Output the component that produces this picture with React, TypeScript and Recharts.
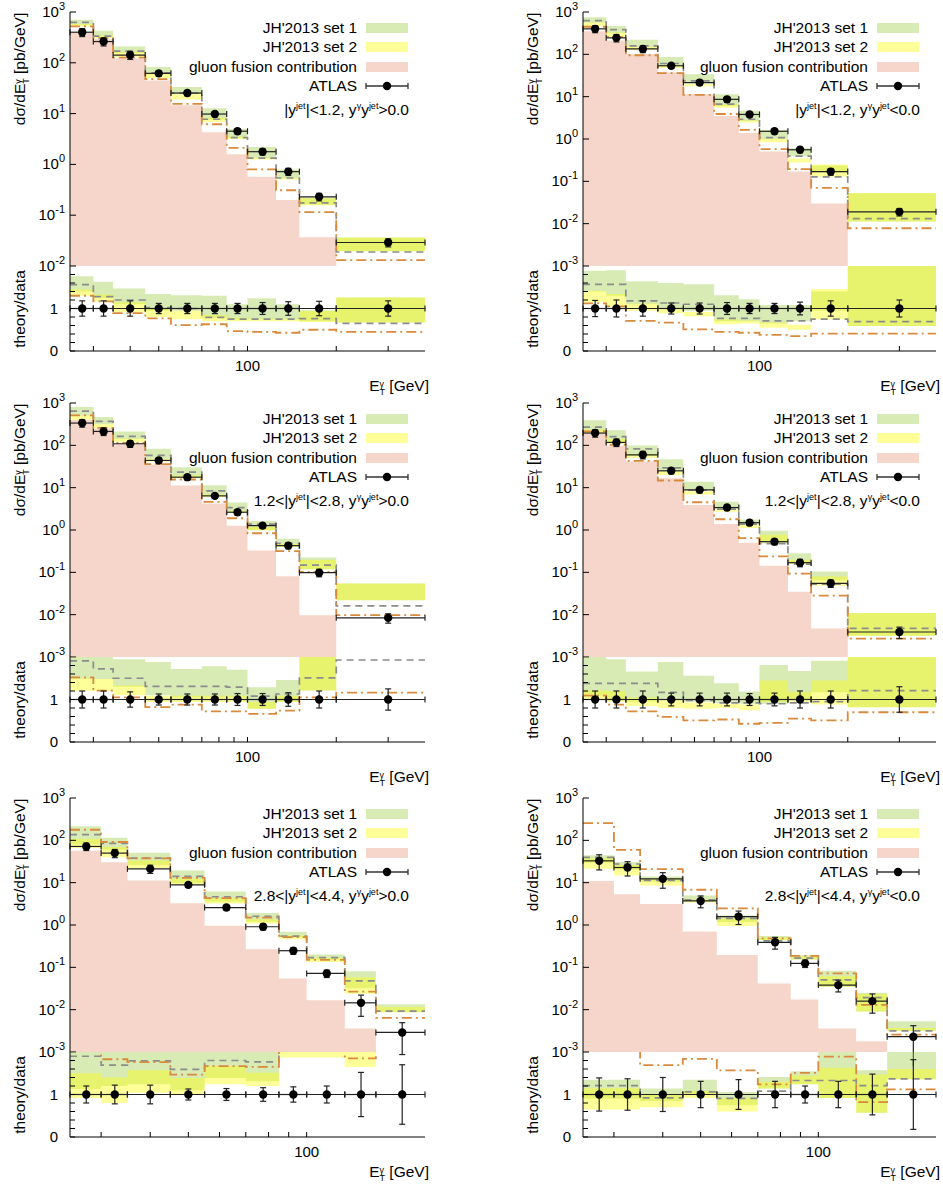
import type { ReactNode } from 'react'
import { ComposedChart, Area, Line, Scatter, ErrorBar, XAxis, YAxis, ReferenceLine } from 'recharts'

const FONT = '"Liberation Sans", Arial, Helvetica, sans-serif'

// bin edges of E_T^gamma [GeV]
const edgesCentral = [25, 30, 35, 45, 55, 70, 85, 100, 125, 150, 200, 400]
const edgesForward = [25, 30, 35, 45, 55, 70, 85, 100, 125, 150, 200]
const xTicksCentral = [30, 40, 50, 60, 70, 80, 90, 100, 200, 300]
const xTicksForward = [30, 40, 50, 60, 70, 80, 90, 100]

// theory curves are kept as ratio to data

// |y jet| < 1.2, y*y > 0
const p1Atlas = [400, 262, 142, 62, 25.4, 9.8, 4.5, 1.78, 0.72, 0.23, 0.029]
const p1Err = [0.18, 0.18, 0.18, 0.12, 0.12, 0.12, 0.12, 0.14, 0.16, 0.17, 0.18]
const p1Set1Lo = [1.4, 1.25, 1.1, 0.95, 0.95, 0.78, 0.74, 0.74, 0.74, 0.7, 0.67]
const p1Set1Hi = [1.76, 1.63, 1.47, 1.34, 1.31, 1.3, 1.1, 1.24, 1.1, 0.96, 1.26]
const p1Set2Lo = [1.3, 1.17, 0.92, 0.8, 0.75, 0.7, 0.7, 0.7, 0.7, 0.68, 0.67]
const p1Set2Hi = [1.45, 1.33, 1.15, 1.0, 0.95, 0.85, 0.78, 0.76, 0.76, 0.94, 1.26]
const p1Dash = [1.56, 1.28, 1.2, 1.02, 1.0, 0.79, 0.75, 0.75, 0.75, 0.76, 0.65]
const p1DashDot = [1.3, 1.17, 0.89, 0.77, 0.61, 0.63, 0.47, 0.45, 0.43, 0.5, 0.45]
const p1Gluon = [400, 290, 122, 44.8, 14.6, 4.3, 1.58, 0.57, 0.2, 0.037, 0.004]

// |y jet| < 1.2, y*y < 0
const p2Atlas = [400, 245, 134, 53.7, 21.5, 8.65, 3.8, 1.52, 0.557, 0.17, 0.019]
const p2Err = [0.19, 0.2, 0.18, 0.13, 0.13, 0.14, 0.12, 0.12, 0.15, 0.18, 0.2]
const p2Set1Lo = [1.4, 1.3, 1.1, 1.0, 0.95, 0.7, 0.7, 0.65, 0.7, 0.95, 0.59]
const p2Set1Hi = [1.89, 1.9, 1.64, 1.6, 1.57, 1.31, 1.22, 1.08, 1.08, 1.4, 2.8]
const p2Set2Lo = [1.15, 1.05, 0.95, 0.89, 0.82, 0.63, 0.65, 0.55, 0.5, 0.75, 0.59]
const p2Set2Hi = [1.42, 1.34, 1.12, 1.02, 0.92, 0.75, 0.72, 0.67, 0.62, 1.46, 2.8]
const p2Dash = [1.57, 1.57, 1.18, 1.13, 1.1, 0.77, 0.77, 0.71, 0.71, 0.75, 0.69]
const p2DashDot = [1.12, 1.05, 0.71, 0.67, 0.51, 0.45, 0.43, 0.38, 0.35, 0.41, 0.41]
const p2Gluon = [350, 211, 102, 37, 11.4, 3.5, 1.39, 0.51, 0.17, 0.03, 0.0004]

// 1.2 < |y jet| < 2.8, y*y > 0
const p3Atlas = [336, 213, 109, 44, 17.7, 6.4, 2.63, 1.27, 0.427, 0.098, 0.0084]
const p3Err = [0.2, 0.2, 0.18, 0.13, 0.13, 0.13, 0.14, 0.14, 0.16, 0.2, 0.25]
const p3Set1Lo = [1.48, 1.48, 1.3, 1.1, 1.05, 1.05, 1.05, 0.78, 0.95, 1.21, 2.6]
const p3Set1Hi = [2.4, 2.2, 1.95, 1.88, 1.72, 1.78, 1.7, 1.29, 1.46, 2.3, 6.5]
const p3Set2Lo = [1.2, 1.2, 1.1, 0.94, 0.94, 0.94, 0.94, 0.78, 0.94, 1.21, 2.6]
const p3Set2Hi = [1.5, 1.48, 1.33, 1.09, 1.09, 1.09, 1.09, 0.94, 1.09, 2.0, 6.5]
const p3Dash = [1.91, 1.72, 1.5, 1.31, 1.31, 1.31, 1.29, 1.08, 1.13, 1.51, 1.93]
const p3DashDot = [1.52, 1.21, 1.05, 0.82, 0.88, 0.72, 0.72, 0.66, 0.74, 1.05, 1.16]
const p3Gluon = [400, 250, 110, 34.7, 11.3, 4.2, 1.26, 0.33, 0.081, 0.0097, 0.0003]

// 1.2 < |y jet| < 2.8, y*y < 0
const p4Atlas = [195, 117, 59.8, 25, 8.87, 3.39, 1.49, 0.53, 0.169, 0.055, 0.0039]
const p4Err = [0.2, 0.2, 0.2, 0.15, 0.15, 0.15, 0.14, 0.15, 0.2, 0.2, 0.3]
const p4Set1Lo = [1.09, 1.0, 0.95, 0.98, 0.95, 0.92, 0.9, 0.9, 1.0, 1.17, 0.82]
const p4Set1Hi = [2.0, 1.95, 1.66, 1.88, 1.56, 1.38, 1.19, 1.81, 1.67, 1.91, 2.8]
const p4Set2Lo = [1.0, 0.95, 0.85, 0.8, 0.78, 0.8, 0.75, 0.95, 0.95, 0.88, 0.82]
const p4Set2Hi = [1.21, 1.2, 1.05, 0.98, 0.93, 0.9, 0.88, 1.45, 1.18, 1.45, 2.8]
const p4Dash = [1.38, 1.38, 1.38, 1.17, 0.98, 0.92, 0.92, 0.9, 0.92, 0.95, 1.21]
const p4DashDot = [1.09, 0.88, 0.72, 0.59, 0.51, 0.53, 0.43, 0.45, 0.55, 0.51, 0.7]
const p4Gluon = [200, 98, 41.7, 16.8, 3.9, 1.39, 0.5, 0.143, 0.035, 0.0047, 0.0003]

// 2.8 < |y jet| < 4.4, y*y > 0
const p5Atlas = [71.7, 49.9, 21.2, 8.87, 2.58, 0.91, 0.247, 0.0718, 0.0145, 0.0029]
const p5Err = [0.2, 0.22, 0.22, 0.13, 0.14, 0.16, 0.18, 0.2, 0.52, 0.7]
const p5Set1Lo = [1.13, 1.2, 1.24, 1.1, 1.39, 1.31, 2.05, 2.1, 2.2, 3.0]
const p5Set1Hi = [3.0, 2.3, 2.4, 2.2, 2.4, 2.1, 2.8, 2.8, 5.6, 4.6]
const p5Set2Lo = [0.92, 0.8, 1.04, 0.99, 1.24, 1.2, 1.87, 1.87, 1.65, 3.0]
const p5Set2Hi = [1.5, 1.4, 1.57, 1.39, 1.67, 1.51, 2.3, 2.3, 4.0, 4.0]
const p5Dash = [1.9, 1.69, 1.79, 1.59, 1.8, 1.77, 2.2, 2.37, 3.3, 3.2]
const p5DashDot = [2.48, 1.83, 1.76, 1.47, 1.67, 1.65, 2.1, 2.1, 1.85, 2.2]
const p5Gluon = [56.6, 30.5, 11.2, 3.27, 0.966, 0.266, 0.0547, 0.0168, 0.0036, 0.0002]

// 2.8 < |y jet| < 4.4, y*y < 0
const p6Atlas = [32.8, 22.8, 12.3, 3.7, 1.58, 0.39, 0.124, 0.038, 0.0159, 0.0023]
const p6Err = [0.39, 0.37, 0.4, 0.31, 0.35, 0.31, 0.2, 0.31, 0.48, 0.82]
const p6Set1Lo = [0.9, 0.9, 0.85, 1.0, 0.75, 1.14, 1.24, 0.92, 0.57, 1.36]
const p6Set1Hi = [1.35, 1.35, 1.14, 1.35, 1.06, 1.41, 1.55, 2.2, 1.57, 2.3]
const p6Set2Lo = [0.65, 0.65, 0.7, 0.92, 0.6, 1.14, 1.24, 0.92, 0.57, 1.36]
const p6Set2Hi = [1.15, 1.15, 1.0, 1.08, 0.92, 1.3, 1.45, 1.63, 1.47, 1.6]
const p6Dash = [1.21, 1.21, 0.92, 1.06, 0.91, 1.08, 1.33, 1.33, 1.21, 1.37]
const p6DashDot = [7.8, 2.6, 1.69, 1.84, 1.57, 1.24, 1.51, 1.89, 0.82, 1.12]
const p6Gluon = [11.0, 5.3, 3.15, 0.7, 0.195, 0.0417, 0.0174, 0.0036, 0.0018, 0.0002]

const GREEN = '#9ecd46'
const YELLOW = '#ffff00'
const PINK = '#f6d6ca'
const BAND_OPACITY = 0.4

const PLOT_LEFT = [70, 583]
const PLOT_W = [355, 353]
const ROW_TOP = [12, 403, 798]
const MAIN_H = 254
const RATIO_H = 85
const Y_W = 70

interface Panel {
  edges: number[]
  xTicks: number[]
  atlas: number[]
  err: number[]
  set1Lo: number[]
  set1Hi: number[]
  set2Lo: number[]
  set2Hi: number[]
  dash: number[]
  dashDot: number[]
  gluon: number[]
  yMin: number
  region: ReactNode
}

function Sup({ children }: { children: ReactNode }) {
  return <span style={{ fontSize: 9, verticalAlign: 6 }}>{children}</span>
}

const panels: Panel[] = [
  {
    edges: edgesCentral, xTicks: xTicksCentral, atlas: p1Atlas, err: p1Err,
    set1Lo: p1Set1Lo, set1Hi: p1Set1Hi, set2Lo: p1Set2Lo, set2Hi: p1Set2Hi,
    dash: p1Dash, dashDot: p1DashDot, gluon: p1Gluon, yMin: 1e-2,
    region: <>|y<Sup>jet</Sup>|&lt;1.2, y<Sup>γ</Sup>y<Sup>jet</Sup>&gt;0.0</>,
  },
  {
    edges: edgesCentral, xTicks: xTicksCentral, atlas: p2Atlas, err: p2Err,
    set1Lo: p2Set1Lo, set1Hi: p2Set1Hi, set2Lo: p2Set2Lo, set2Hi: p2Set2Hi,
    dash: p2Dash, dashDot: p2DashDot, gluon: p2Gluon, yMin: 1e-3,
    region: <>|y<Sup>jet</Sup>|&lt;1.2, y<Sup>γ</Sup>y<Sup>jet</Sup>&lt;0.0</>,
  },
  {
    edges: edgesCentral, xTicks: xTicksCentral, atlas: p3Atlas, err: p3Err,
    set1Lo: p3Set1Lo, set1Hi: p3Set1Hi, set2Lo: p3Set2Lo, set2Hi: p3Set2Hi,
    dash: p3Dash, dashDot: p3DashDot, gluon: p3Gluon, yMin: 1e-3,
    region: <>1.2&lt;|y<Sup>jet</Sup>|&lt;2.8, y<Sup>γ</Sup>y<Sup>jet</Sup>&gt;0.0</>,
  },
  {
    edges: edgesCentral, xTicks: xTicksCentral, atlas: p4Atlas, err: p4Err,
    set1Lo: p4Set1Lo, set1Hi: p4Set1Hi, set2Lo: p4Set2Lo, set2Hi: p4Set2Hi,
    dash: p4Dash, dashDot: p4DashDot, gluon: p4Gluon, yMin: 1e-3,
    region: <>1.2&lt;|y<Sup>jet</Sup>|&lt;2.8, y<Sup>γ</Sup>y<Sup>jet</Sup>&lt;0.0</>,
  },
  {
    edges: edgesForward, xTicks: xTicksForward, atlas: p5Atlas, err: p5Err,
    set1Lo: p5Set1Lo, set1Hi: p5Set1Hi, set2Lo: p5Set2Lo, set2Hi: p5Set2Hi,
    dash: p5Dash, dashDot: p5DashDot, gluon: p5Gluon, yMin: 1e-3,
    region: <>2.8&lt;|y<Sup>jet</Sup>|&lt;4.4, y<Sup>γ</Sup>y<Sup>jet</Sup>&gt;0.0</>,
  },
  {
    edges: edgesForward, xTicks: xTicksForward, atlas: p6Atlas, err: p6Err,
    set1Lo: p6Set1Lo, set1Hi: p6Set1Hi, set2Lo: p6Set2Lo, set2Hi: p6Set2Hi,
    dash: p6Dash, dashDot: p6DashDot, gluon: p6Gluon, yMin: 1e-3,
    region: <>2.8&lt;|y<Sup>jet</Sup>|&lt;4.4, y<Sup>γ</Sup>y<Sup>jet</Sup>&lt;0.0</>,
  },
]

// one row per bin edge, the last edge repeats the last bin (stepAfter)
function buildRows(p: Panel) {
  const n = p.atlas.length
  return p.edges.map((x, i) => {
    const k = Math.min(i, n - 1)
    const d = p.atlas[k]
    return {
      x,
      gluon: [p.yMin, p.gluon[k]],
      set1: [p.set1Lo[k] * d, p.set1Hi[k] * d],
      set2: [p.set2Lo[k] * d, p.set2Hi[k] * d],
      dash: p.dash[k] * d,
      dashDot: p.dashDot[k] * d,
      rSet1: [p.set1Lo[k], p.set1Hi[k]],
      rSet2: [p.set2Lo[k], p.set2Hi[k]],
      rDash: p.dash[k],
      rDashDot: p.dashDot[k],
    }
  })
}

function buildPoints(p: Panel) {
  return p.atlas.map((d, i) => {
    const lo = p.edges[i]
    const hi = p.edges[i + 1]
    const c = (lo + hi) / 2
    return { x: c, y: d, ex: [c - lo, hi - c], ey: d * p.err[i], r: 1, er: p.err[i] }
  })
}

function PowTick(props: any) {
  const { x, y, payload } = props
  const e = Math.round(Math.log10(payload.value))
  return (
    <text x={x} y={y} dy={5} textAnchor="end" fontSize={15} fontFamily={FONT} fill="#000">
      10<tspan dy={-7} fontSize={11}>{e}</tspan>
    </text>
  )
}

const dot = (props: any) => <circle cx={props.cx} cy={props.cy} r={4.2} fill="#000" />

function seriesStyle() {
  return { isAnimationActive: false as const }
}

function MainChart({ p, col, row }: { p: Panel; col: number; row: number }) {
  const rows = buildRows(p)
  const points = buildPoints(p)
  const left = PLOT_LEFT[col]
  const w = PLOT_W[col]
  const top = ROW_TOP[row]
  const xDomain = [p.edges[0], p.edges[p.edges.length - 1]]
  const yTicks = [1e-3, 1e-2, 1e-1, 1, 10, 100, 1000].filter((t) => t >= p.yMin)
  return (
    <div style={{ position: 'absolute', left: left - Y_W, top: top - 12 }}>
      <ComposedChart
        width={Y_W + w + 10}
        height={12 + MAIN_H + 14}
        data={rows}
        margin={{ top: 12, right: 10, bottom: 14, left: 0 }}
      >
        <XAxis dataKey="x" type="number" scale="log" domain={xDomain} ticks={p.xTicks} tick={false} interval={0}
          tickSize={-5} height={0} allowDataOverflow stroke="#000" />
        <XAxis xAxisId="top" orientation="top" dataKey="x" type="number" scale="log" domain={xDomain} interval={0}
          ticks={p.xTicks} tick={false} tickSize={-5} height={0} allowDataOverflow stroke="#000" />
        <YAxis type="number" scale="log" domain={[p.yMin, 1000]} ticks={yTicks} width={Y_W} interval={0}
          tickSize={-6} tickMargin={11} tick={<PowTick />} allowDataOverflow stroke="#000" />
        <YAxis yAxisId="right" orientation="right" type="number" scale="log" domain={[p.yMin, 1000]} interval={0}
          ticks={yTicks} width={0} tickSize={-6} tick={false} allowDataOverflow stroke="#000" />
        <Area type="stepAfter" dataKey="gluon" fill={PINK} fillOpacity={1} stroke="none" {...seriesStyle()} />
        <Area type="stepAfter" dataKey="set1" fill={GREEN} fillOpacity={BAND_OPACITY} stroke="none" {...seriesStyle()} />
        <Area type="stepAfter" dataKey="set2" fill={YELLOW} fillOpacity={BAND_OPACITY} stroke="none" {...seriesStyle()} />
        <Line type="stepAfter" dataKey="dash" stroke="#8c8c8c" strokeWidth={1.7} strokeDasharray="7 5"
          dot={false} {...seriesStyle()} />
        <Line type="stepAfter" dataKey="dashDot" stroke="#d98a3d" strokeWidth={1.8} strokeDasharray="10 4 2 4"
          dot={false} {...seriesStyle()} />
        <Scatter data={points} dataKey="y" shape={dot} {...seriesStyle()}>
          <ErrorBar dataKey="ex" direction="x" width={3} stroke="#222" strokeWidth={1.2} />
          <ErrorBar dataKey="ey" direction="y" width={3} stroke="#222" strokeWidth={1.2} />
        </Scatter>
      </ComposedChart>
    </div>
  )
}

function RatioChart({ p, col, row }: { p: Panel; col: number; row: number }) {
  const rows = buildRows(p)
  const points = buildPoints(p)
  const left = PLOT_LEFT[col]
  const w = PLOT_W[col]
  const top = ROW_TOP[row] + MAIN_H
  const xDomain = [p.edges[0], p.edges[p.edges.length - 1]]
  const yTicks = [0, 0.2, 0.4, 0.6, 0.8, 1, 1.2, 1.4, 1.6, 1.8]
  return (
    <div style={{ position: 'absolute', left: left - Y_W, top: top - 4 }}>
      <ComposedChart
        width={Y_W + w + 10}
        height={4 + RATIO_H + 30}
        data={rows}
        margin={{ top: 4, right: 10, bottom: 0, left: 0 }}
      >
        <XAxis dataKey="x" type="number" scale="log" domain={xDomain} ticks={p.xTicks} interval={0}
          tickFormatter={(v: number) => (v === 100 ? '100' : '')}
          tick={{ fill: '#000', fontSize: 15, fontFamily: FONT }}
          tickSize={-5} tickMargin={14} height={30} allowDataOverflow stroke="#000" />
        <XAxis xAxisId="top" orientation="top" dataKey="x" type="number" scale="log" domain={xDomain} interval={0}
          ticks={p.xTicks} tick={false} tickSize={-5} height={0} allowDataOverflow stroke="#000" />
        <YAxis type="number" domain={[0, 2]} ticks={yTicks} width={Y_W} interval={0}
          tickFormatter={(v: number) => (v === 0 ? '0' : v === 1 ? '1' : '')}
          tick={{ fill: '#000', fontSize: 15, fontFamily: FONT }}
          tickSize={-5} tickMargin={17} allowDataOverflow stroke="#000" />
        <YAxis yAxisId="right" orientation="right" type="number" domain={[0, 2]} ticks={yTicks} interval={0}
          width={0} tickSize={-5} tick={false} allowDataOverflow stroke="#000" />
        <Area type="stepAfter" dataKey="rSet1" fill={GREEN} fillOpacity={BAND_OPACITY} stroke="none" {...seriesStyle()} />
        <Area type="stepAfter" dataKey="rSet2" fill={YELLOW} fillOpacity={BAND_OPACITY} stroke="none" {...seriesStyle()} />
        <ReferenceLine y={1} stroke="#000" strokeWidth={1.2} />
        <Line type="stepAfter" dataKey="rDash" stroke="#8c8c8c" strokeWidth={1.7} strokeDasharray="7 5"
          dot={false} {...seriesStyle()} />
        <Line type="stepAfter" dataKey="rDashDot" stroke="#d98a3d" strokeWidth={1.8} strokeDasharray="10 4 2 4"
          dot={false} {...seriesStyle()} />
        <Scatter data={points} dataKey="r" shape={dot} {...seriesStyle()}>
          <ErrorBar dataKey="ex" direction="x" width={3} stroke="#222" strokeWidth={1.2} />
          <ErrorBar dataKey="er" direction="y" width={3} stroke="#222" strokeWidth={1.2} />
        </Scatter>
      </ComposedChart>
    </div>
  )
}

const textBase = { position: 'absolute' as const, fontFamily: FONT, fontSize: 15.5, color: '#000', whiteSpace: 'nowrap' as const }

function Rotated({ cx, cy, children }: { cx: number; cy: number; children: ReactNode }) {
  return (
    <div style={{ ...textBase, left: cx, top: cy, transform: 'translate(-50%, -50%) rotate(-90deg)', lineHeight: '18px' }}>
      {children}
    </div>
  )
}

function Overlay({ p, col, row }: { p: Panel; col: number; row: number }) {
  const left = PLOT_LEFT[col]
  const right = left + PLOT_W[col]
  const top = ROW_TOP[row]
  const rTop = top + MAIN_H
  const textRight = 943 - (right - 68)
  const items = [
    { label: "JH'2013 set 1", color: '#d8ebb5' },
    { label: "JH'2013 set 2", color: '#ffff99' },
    { label: 'gluon fusion contribution', color: PINK },
    { label: 'ATLAS', color: '' },
  ]
  const rowY = [15.5, 35, 54.5, 74]
  return (
    <>
      {items.map((it, i) => (
        <div key={it.label}>
          <div style={{ ...textBase, right: textRight, top: top + rowY[i] - 9, lineHeight: '18px' }}>{it.label}</div>
          {it.color ? (
            <div style={{ position: 'absolute', left: right - 59, width: 42, top: top + rowY[i] - 5, height: 10, background: it.color }} />
          ) : (
            <svg style={{ position: 'absolute', left: right - 60, top: top + rowY[i] - 6 }} width={44} height={12}>
              <line x1={1} y1={6} x2={43} y2={6} stroke="#333" strokeWidth={1.3} />
              <line x1={1} y1={3} x2={1} y2={9} stroke="#333" strokeWidth={1.3} />
              <line x1={43} y1={3} x2={43} y2={9} stroke="#333" strokeWidth={1.3} />
              <circle cx={22} cy={6} r={4.2} fill="#000" />
            </svg>
          )}
        </div>
      ))}
      <div style={{ ...textBase, right: 943 - (right - 16), top: top + 94 - 9, lineHeight: '18px' }}>{p.region}</div>
      <Rotated cx={left - 50} cy={top + 57}>
        dσ/dE
        <span style={{ display: 'inline-block', verticalAlign: -4, lineHeight: '8px', fontSize: 9, textAlign: 'left' }}>
          γ<br />T
        </span>{' '}
        [pb/GeV]
      </Rotated>
      <Rotated cx={left - 50} cy={rTop + RATIO_H / 2}>theory/data</Rotated>
      <div style={{ ...textBase, right: 943 - (right + 4), top: rTop + RATIO_H + 26, lineHeight: '18px' }}>
        E
        <span style={{ display: 'inline-block', verticalAlign: -4, lineHeight: '8px', fontSize: 9 }}>
          γ<br />T
        </span>
        {'  '}[GeV]
      </div>
    </>
  )
}

export default function App() {
  return (
    <div style={{ position: 'absolute', left: 0, top: 0, width: 943, height: 1184, background: '#fff', overflow: 'hidden' }}>
      {panels.map((p, i) => {
        const col = i % 2
        const row = Math.floor(i / 2)
        return (
          <div key={i}>
            <MainChart p={p} col={col} row={row} />
            <RatioChart p={p} col={col} row={row} />
            <Overlay p={p} col={col} row={row} />
          </div>
        )
      })}
    </div>
  )
}
